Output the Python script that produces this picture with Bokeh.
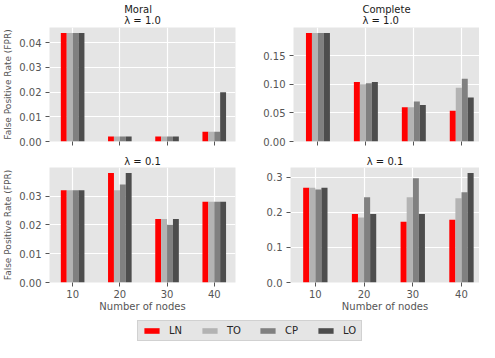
from bokeh.plotting import figure
from bokeh.layouts import column, row
from bokeh.models import ColumnDataSource, Range1d, FixedTicker, PrintfTickFormatter
from bokeh.transform import dodge
from bokeh.embed import file_html
from bokeh.resources import INLINE

nodes = [10, 20, 30, 40]
methods = ["LN", "TO", "CP", "LO"]
colors = ["#ff0000", "#b3b3b3", "#808080", "#4d4d4d"]

moral_l1_LN = [0.044, 0.002, 0.002, 0.004]
moral_l1_TO = [0.044, 0.002, 0.002, 0.004]
moral_l1_CP = [0.044, 0.002, 0.002, 0.004]
moral_l1_LO = [0.044, 0.002, 0.002, 0.020]

complete_l1_LN = [0.190, 0.104, 0.060, 0.054]
complete_l1_TO = [0.190, 0.100, 0.060, 0.094]
complete_l1_CP = [0.190, 0.102, 0.070, 0.110]
complete_l1_LO = [0.190, 0.104, 0.064, 0.077]

moral_l01_LN = [0.032, 0.038, 0.022, 0.028]
moral_l01_TO = [0.032, 0.032, 0.022, 0.028]
moral_l01_CP = [0.032, 0.034, 0.020, 0.028]
moral_l01_LO = [0.032, 0.038, 0.022, 0.028]

complete_l01_LN = [0.270, 0.195, 0.173, 0.179]
complete_l01_TO = [0.270, 0.185, 0.243, 0.240]
complete_l01_CP = [0.265, 0.243, 0.297, 0.257]
complete_l01_LO = [0.270, 0.195, 0.195, 0.312]

moral_l1_ticks = [0.0, 0.01, 0.02, 0.03, 0.04]
complete_l1_ticks = [0.0, 0.05, 0.10, 0.15]
moral_l01_ticks = [0.0, 0.01, 0.02, 0.03]
complete_l01_ticks = [0.0, 0.1, 0.2, 0.3]

FONT = "DejaVu Sans"
GRAY = "#555555"
BAR_W = 1.25
offsets = [-1.5 * BAR_W, -0.5 * BAR_W, 0.5 * BAR_W, 1.5 * BAR_W]


def panel(series, ymax, yticks, fmt, title, width, height, mbl, mbr, mbt, mbb,
          xr, show_xlabels, ylabel):
    p = figure(width=width, height=height, x_range=Range1d(*xr),
               y_range=Range1d(0, ymax), output_backend="svg",
               toolbar_location=None, min_border_left=mbl, min_border_right=mbr,
               min_border_top=mbt, min_border_bottom=mbb)
    p.title.text = title
    p.title.align = "center"
    p.title.text_font = FONT
    p.title.text_font_size = "10px"
    p.title.text_font_style = "normal"
    p.title.text_color = "#1a1a1a"
    p.title.text_line_height = 1.05
    p.title.standoff = 2
    p.title.offset = 0
    p.background_fill_color = "#e5e5e5"
    p.border_fill_color = "white"
    p.outline_line_color = None
    p.grid.grid_line_color = "white"
    p.grid.grid_line_width = 1.2
    p.axis.axis_line_color = None
    p.axis.major_tick_line_color = GRAY
    p.axis.major_tick_out = 4
    p.axis.major_tick_in = 0
    p.axis.minor_tick_out = 0
    p.axis.minor_tick_in = 0
    p.axis.major_label_text_font = FONT
    p.axis.major_label_text_font_size = "10px"
    p.axis.major_label_text_color = GRAY
    p.axis.major_label_standoff = 4
    p.axis.axis_label_text_font = FONT
    p.axis.axis_label_text_font_style = "normal"
    p.axis.axis_label_text_color = GRAY
    p.yaxis.ticker = FixedTicker(ticks=yticks)
    p.yaxis.formatter = PrintfTickFormatter(format=fmt)
    p.xaxis.ticker = FixedTicker(ticks=nodes)
    if show_xlabels:
        p.xaxis.axis_label = "Number of nodes"
        p.xaxis.axis_label_text_font_size = "10px"
        p.xaxis.axis_label_standoff = 0
        p.xaxis.major_label_standoff = 3
    else:
        p.xaxis.major_label_overrides = {n: "" for n in nodes}
        p.xaxis.major_label_standoff = -8
    if ylabel:
        p.yaxis.axis_label = "False Positive Rate (FPR)"
        p.yaxis.axis_label_text_font_size = "9px"
        p.yaxis.axis_label_standoff = 3
    src = ColumnDataSource(dict(nodes=nodes, LN=series[0], TO=series[1],
                                CP=series[2], LO=series[3]))
    for m, c, off in zip(methods, colors, offsets):
        p.vbar(x=dodge("nodes", off), top=m, width=BAR_W, source=src,
               fill_color=c, line_color=None)
    return p


LEFT_XR = (5.1, 44.5)
RIGHT_XR = (4.9, 43.7)
LW, RW = 260, 219
TOP_H, BOT_H, LEG_H = 152, 162, 28

p1 = panel([moral_l1_LN, moral_l1_TO, moral_l1_CP, moral_l1_LO], 0.0462,
           moral_l1_ticks, "%.2f", "Moral\nλ = 1.0", LW, TOP_H, 43, 25, 24, 11,
           LEFT_XR, False, True)
p2 = panel([complete_l1_LN, complete_l1_TO, complete_l1_CP, complete_l1_LO], 0.1995,
           complete_l1_ticks, "%.2f", "Complete\nλ = 1.0", RW, TOP_H, 30, 0, 24, 11,
           RIGHT_XR, False, False)
p3 = panel([moral_l01_LN, moral_l01_TO, moral_l01_CP, moral_l01_LO], 0.0399,
           moral_l01_ticks, "%.2f", "λ = 0.1", LW, BOT_H, 43, 25, 12, 32,
           LEFT_XR, True, True)
p4 = panel([complete_l01_LN, complete_l01_TO, complete_l01_CP, complete_l01_LO], 0.3276,
           complete_l01_ticks, "%.1f", "λ = 0.1", RW, BOT_H, 30, 0, 12, 32,
           RIGHT_XR, True, False)

lf = figure(width=LW + RW, height=LEG_H, toolbar_location=None, output_backend="svg",
            min_border=0, x_axis_location=None, y_axis_location=None,
            x_range=Range1d(0, 1), y_range=Range1d(0, 1))
lf.outline_line_color = None
lf.grid.visible = False
lf.background_fill_color = None
for m, c in zip(methods, colors):
    lf.vbar(x=[-5], top=[-5], bottom=[-6], width=1, fill_color=c, line_color=None,
            legend_label=m)
lg = lf.legend[0]
lg.location = (137, 1)
lg.orientation = "horizontal"
lg.glyph_width = 19
lg.glyph_height = 7
lg.label_height = 10
lg.label_width = 14
lg.label_text_font = FONT
lg.label_text_font_size = "10px"
lg.label_text_color = "#262626"
lg.label_standoff = 8
lg.spacing = 17
lg.padding = 4
lg.margin = 0
lg.background_fill_color = "#e5e5e5"
lg.background_fill_alpha = 1
lg.border_line_color = "#bdbdbd"

layout = column(row(p1, p2), row(p3, p4), lf)
open("out.html", "w").write(file_html(layout, INLINE))
